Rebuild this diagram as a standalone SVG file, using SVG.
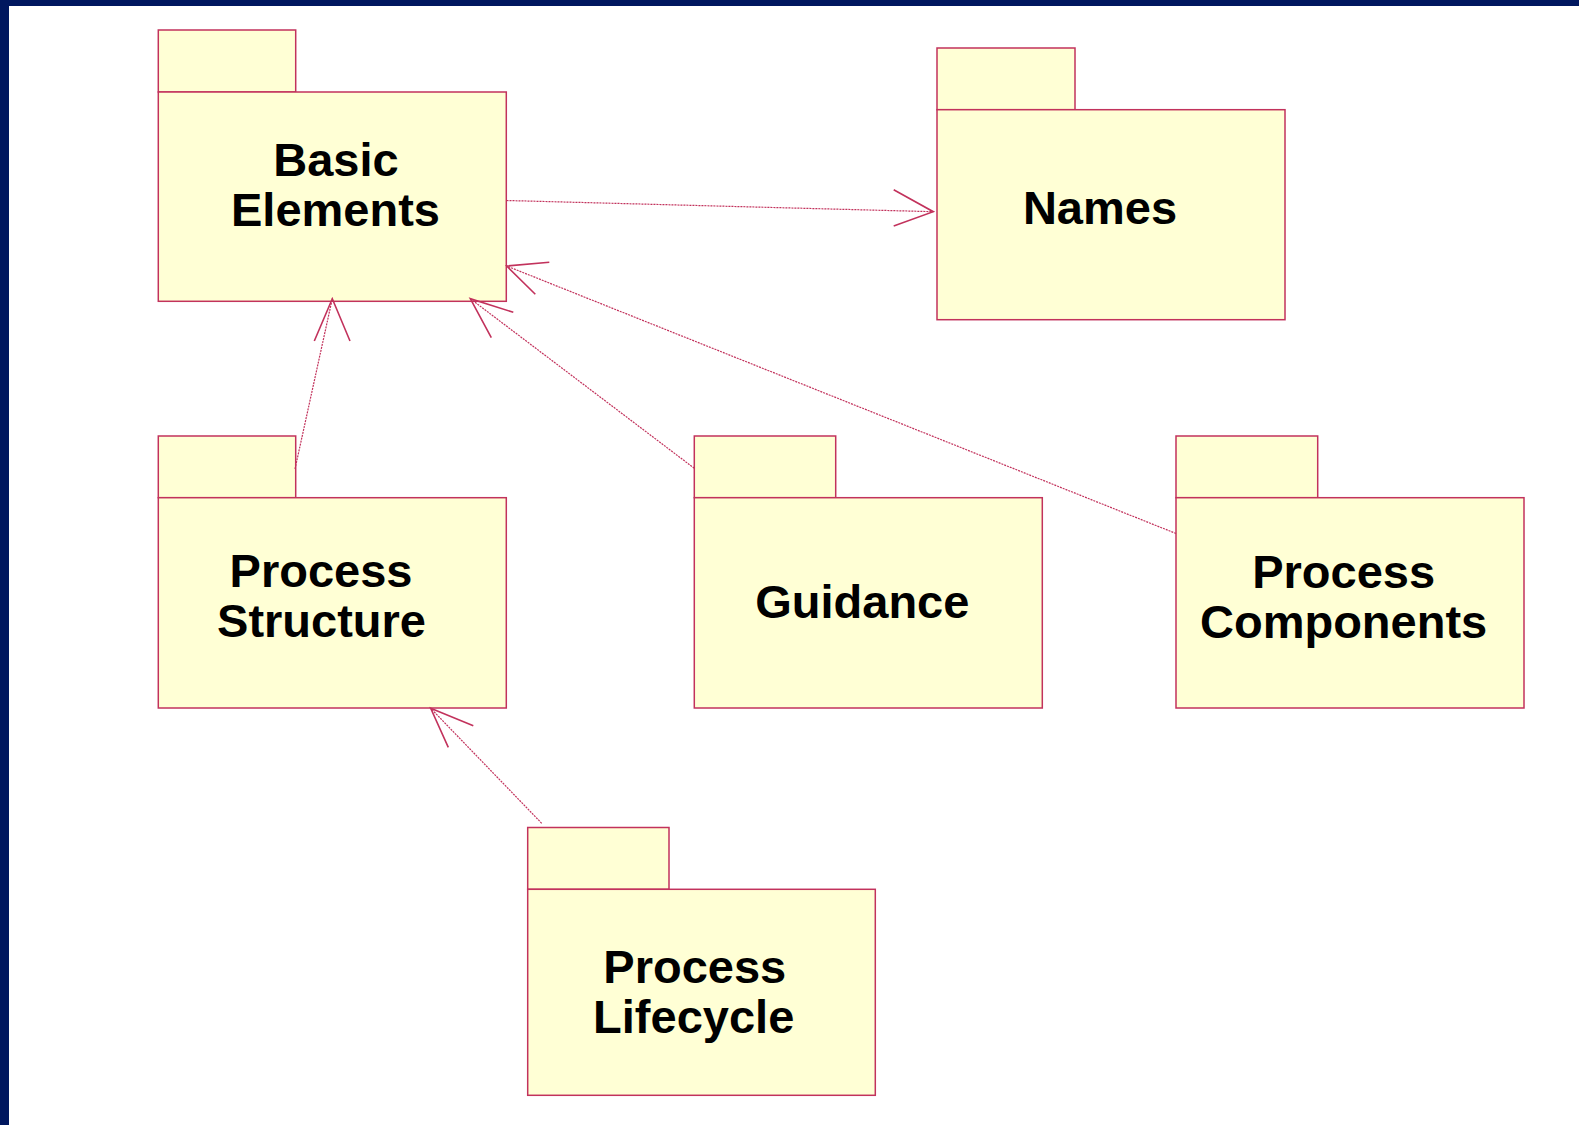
<svg xmlns="http://www.w3.org/2000/svg" width="1579" height="1125" viewBox="0 0 1579 1125">
  <style>
    .pkg rect { fill: #FFFFD5; stroke: #C2325C; stroke-width: 1.5; }
    .pkg text { font-family: "Liberation Sans", Arial, sans-serif; font-weight: bold; font-size: 47px; fill: #000; text-anchor: middle; }
    .dep line { stroke: #C2325C; stroke-width: 1.2; stroke-dasharray: 2 1; fill: none; }
    .dep polyline { stroke: #C2325C; stroke-width: 1.6; fill: none; }
  </style>

  <!-- page frame -->
  <rect x="0" y="0" width="1579" height="1125" fill="#FFFFFF"/>
  <rect x="0" y="0" width="1579" height="6" fill="#00175F"/>
  <rect x="0" y="0" width="9" height="1125" fill="#00175F"/>

  <!-- packages -->
  <g id="basic-elements" class="pkg">
    <rect x="158.3" y="30" width="137.4" height="62"/>
    <rect x="158.3" y="92" width="348" height="209.3"/>
    <text x="336" y="176">Basic</text>
    <text x="335.5" y="226">Elements</text>
  </g>

  <g id="names" class="pkg">
    <rect x="937" y="48" width="138" height="61.7"/>
    <rect x="937" y="109.7" width="348" height="210"/>
    <text x="1100" y="223.5">Names</text>
  </g>

  <g id="process-structure" class="pkg">
    <rect x="158.3" y="436" width="137.4" height="61.7"/>
    <rect x="158.3" y="497.7" width="348" height="210.3"/>
    <text x="321" y="587.3">Process</text>
    <text x="321.5" y="636.7">Structure</text>
  </g>

  <g id="guidance" class="pkg">
    <rect x="694.3" y="436" width="141.4" height="61.7"/>
    <rect x="694.3" y="497.7" width="348" height="210.3"/>
    <text x="862.3" y="618.3">Guidance</text>
  </g>

  <g id="process-components" class="pkg">
    <rect x="1176" y="436" width="141.7" height="61.7"/>
    <rect x="1176" y="497.7" width="348" height="210.3"/>
    <text x="1343.6" y="587.8">Process</text>
    <text x="1343.6" y="637.5">Components</text>
  </g>

  <g id="process-lifecycle" class="pkg">
    <rect x="527.7" y="827.5" width="141.3" height="61.8"/>
    <rect x="527.7" y="889.3" width="347.6" height="206"/>
    <text x="694.8" y="983.3">Process</text>
    <text x="693.7" y="1033.3">Lifecycle</text>
  </g>

  <!-- dependencies -->
  <g id="connectors" class="dep">
    <!-- Basic Elements to Names -->
    <line x1="506.5" y1="200.5" x2="933.3" y2="211.7"/>
    <polyline points="893.7,189.7 933.3,211.7 893.7,226"/>

    <!-- Process Structure to Basic Elements -->
    <line x1="295" y1="469" x2="332.3" y2="298.7"/>
    <polyline points="314.3,341 332.3,298.7 350,341"/>

    <!-- Guidance to Basic Elements -->
    <line x1="694.3" y1="468.3" x2="470.3" y2="298.7"/>
    <polyline points="513.3,312.3 470.3,298.7 491.3,337.7"/>

    <!-- Process Components to Basic Elements -->
    <line x1="1176" y1="533.5" x2="506.7" y2="266"/>
    <polyline points="549.3,262.3 506.7,266 535.3,294.3"/>

    <!-- Process Lifecycle to Process Structure -->
    <line x1="541.7" y1="823.3" x2="430.7" y2="708.3"/>
    <polyline points="473.3,725.7 430.7,708.3 448.3,747.3"/>
  </g>
</svg>
